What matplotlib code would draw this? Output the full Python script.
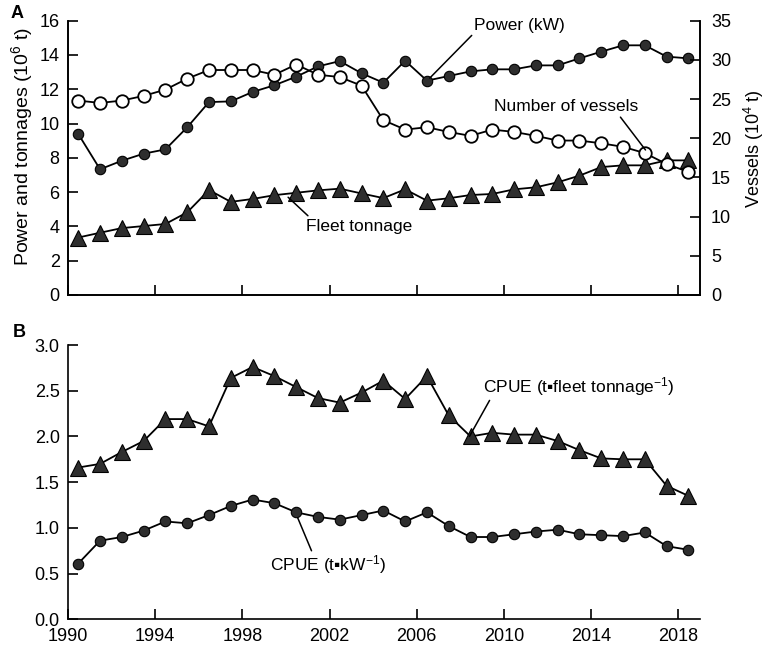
import numpy as np
import matplotlib
matplotlib.use("Agg")
import matplotlib.pyplot as plt

plt.rcParams['font.family'] = ['Liberation Sans', 'DejaVu Sans']
plt.rcParams['mathtext.fontset'] = 'custom'
plt.rcParams['mathtext.rm'] = 'Liberation Sans'
plt.rcParams['mathtext.it'] = 'Liberation Sans:italic'
plt.rcParams['font.size'] = 12.5

# data
years = list(range(1990, 2019))
power = [9.39, 7.33, 7.83, 8.24, 8.49, 9.78, 11.25, 11.29, 11.84, 12.23,
         12.73, 13.33, 13.64, 12.93, 12.38, 13.66, 12.50, 12.77, 13.04, 13.16,
         13.16, 13.39, 13.39, 13.80, 14.19, 14.56, 14.56, 13.90, 13.80]
vessels = [24.8, 24.5, 24.8, 25.4, 26.2, 27.6, 28.7, 28.7, 28.7, 28.1,
           29.4, 28.1, 27.8, 26.7, 22.3, 21.1, 21.4, 20.8, 20.3, 21.1,
           20.8, 20.3, 19.7, 19.7, 19.35, 18.9, 18.1, 16.7, 15.7]
tonnage = [3.35, 3.63, 3.90, 4.02, 4.14, 4.82, 6.12, 5.43, 5.60, 5.82,
           5.96, 6.10, 6.20, 5.92, 5.65, 6.16, 5.50, 5.64, 5.83, 5.89,
           6.16, 6.28, 6.57, 6.96, 7.46, 7.56, 7.56, 7.85, 7.85]
cpue_ton = [1.66, 1.70, 1.83, 1.95, 2.19, 2.19, 2.11, 2.64, 2.76, 2.66,
            2.54, 2.42, 2.37, 2.48, 2.61, 2.41, 2.66, 2.23, 2.00, 2.04,
            2.02, 2.02, 1.95, 1.85, 1.76, 1.75, 1.75, 1.46, 1.35]
cpue_kw = [0.61, 0.86, 0.90, 0.97, 1.07, 1.05, 1.14, 1.24, 1.31, 1.27,
           1.17, 1.12, 1.09, 1.14, 1.19, 1.07, 1.17, 1.02, 0.90, 0.90,
           0.93, 0.96, 0.98, 0.93, 0.92, 0.91, 0.95, 0.80, 0.76]
xticks_b = [1990, 1994, 1998, 2002, 2006, 2010, 2014, 2018]

x = np.array(years) + 0.47
dark = '#2e2e2e'
circ = dict(marker='o', ms=7.5, mfc=dark, mec='black', mew=0.8, color='black', lw=1.3)
tri = dict(marker='^', ms=11, mfc=dark, mec='black', mew=0.8, color='black', lw=1.3)

fig = plt.figure(figsize=(7.66, 6.51), dpi=100)
ax1 = fig.add_axes([0.0888, 0.5469, 0.825, 0.4214])
ax2 = ax1.twinx()
ax3 = fig.add_axes([0.0888, 0.0487, 0.825, 0.4213])

# panel A
ax1.plot(x, power, zorder=3, **circ)
ax1.plot(x, tonnage, zorder=3, **tri)
ax2.plot(x, vessels, marker='o', ms=9, mfc='white', mec='black', mew=1.3, color='black', lw=1.3)
ax1.set_xlim(1990, 2019)
ax1.set_ylim(0, 16)
ax2.set_ylim(0, 35)
ax1.set_yticks(range(0, 17, 2))
ax2.set_yticks(range(0, 36, 5))
ax1.set_xticks(xticks_b)
ax1.set_xticklabels([])
ax1.set_ylabel('Power and tonnages (10$^6$ t)', fontsize=14, va='center')
ax1.yaxis.set_label_coords(-0.073, 0.54)
ax2.set_ylabel('Vessels (10$^4$ t)', fontsize=13, va='center')
ax2.yaxis.set_label_coords(1.085, 0.534)
ax1.spines['top'].set_visible(False)
ax2.spines['top'].set_visible(False)
for a in (ax1, ax2):
    for s in a.spines.values():
        s.set_linewidth(1.2)
ax1.tick_params(direction='in', length=7, width=1.2, pad=6, labelsize=13)
ax2.tick_params(direction='in', length=7, width=1.2, pad=8, labelsize=13)

lp = dict(arrowstyle='-', lw=1.1, color='black', shrinkA=0, shrinkB=0)
ax1.annotate('Power (kW)', xy=(2006.6, 12.65), xytext=(2008.65, 15.3),
             ha='left', va='bottom', arrowprops=dict(relpos=(0, 0), **lp))
ax2.annotate('Number of vessels', xy=(2016.5, 18.5), xytext=(2012.87, 24.0),
             ha='center', va='center', arrowprops=dict(relpos=(0.86, 0), **lp))
ax1.annotate('Fleet tonnage', xy=(2000.1, 5.7), xytext=(2003.34, 4.02),
             ha='center', va='center', arrowprops=dict(relpos=(0.05, 1), **lp))

# panel B
ax3.plot(x, cpue_ton, **tri)
ax3.plot(x, cpue_kw, **circ)
ax3.set_xlim(1990, 2019)
ax3.set_ylim(0, 3.0)
ax3.set_yticks(np.arange(0, 3.01, 0.5))
ax3.yaxis.set_major_formatter(matplotlib.ticker.FormatStrFormatter('%.1f'))
ax3.set_xticks(xticks_b)
ax3.spines['top'].set_visible(False)
ax3.spines['right'].set_visible(False)
for s in ax3.spines.values():
    s.set_linewidth(1.2)
ax3.tick_params(direction='in', length=7, width=1.2, pad=6, labelsize=13)

ax3.annotate('CPUE (t\u25aafleet tonnage$^{-1}$)', xy=(2008.42, 2.0), xytext=(2013.46, 2.55),
             ha='center', va='center', arrowprops=dict(relpos=(0.04, 0), **lp))
ax3.annotate('CPUE (t\u25aakW$^{-1}$)', xy=(2000.54, 1.11), xytext=(2001.92, 0.594),
             ha='center', va='center', arrowprops=dict(relpos=(0.37, 1), **lp))

fig.text(0.014, 0.992, 'A', fontsize=13, fontweight='bold', va='top')
fig.text(0.017, 0.502, 'B', fontsize=13, fontweight='bold', va='top')

fig.savefig('out.png', dpi=100)
